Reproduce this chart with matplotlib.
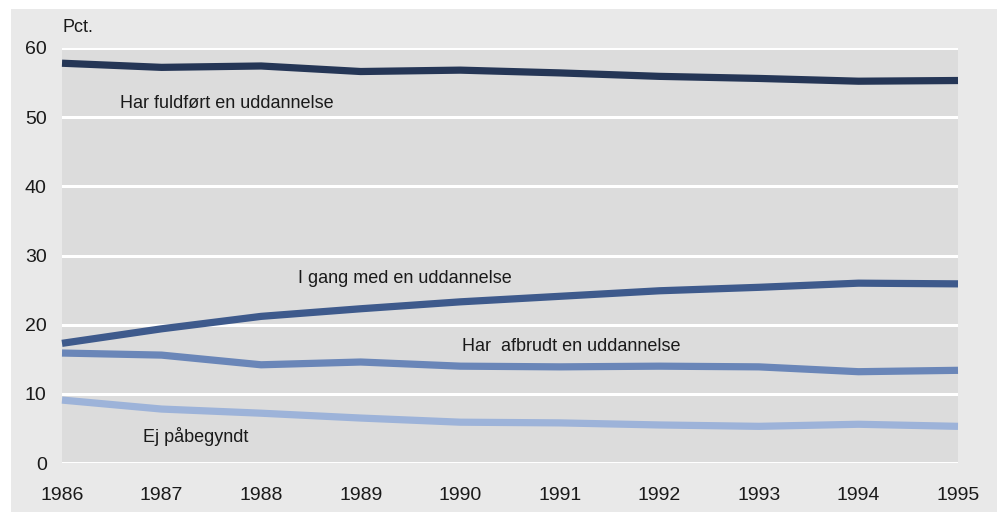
import matplotlib
matplotlib.use("Agg")
import matplotlib.pyplot as plt
from matplotlib.patches import Rectangle

years = [1986, 1987, 1988, 1989, 1990, 1991, 1992, 1993, 1994, 1995]
fuldfort = [57.8, 57.2, 57.4, 56.6, 56.8, 56.4, 55.9, 55.6, 55.2, 55.3]
i_gang = [17.3, 19.4, 21.2, 22.3, 23.3, 24.1, 24.9, 25.4, 26.0, 25.9]
afbrudt = [15.9, 15.6, 14.2, 14.6, 14.0, 13.9, 14.0, 13.9, 13.2, 13.4]
ej_paabegyndt = [9.1, 7.8, 7.2, 6.5, 5.9, 5.8, 5.5, 5.3, 5.6, 5.3]

plt.rcParams['font.family'] = ["Liberation Sans", "DejaVu Sans"]

W, H = 997, 512
fig = plt.figure(figsize=(W / 100, H / 100), dpi=100, facecolor="white")
bg = Rectangle((11 / W, 0), 1, 1 - 9 / H, transform=fig.transFigure,
               facecolor="#e9e9e9", edgecolor="none", zorder=-10)
fig.add_artist(bg)

ax = fig.add_axes([62 / W, 49 / H, (958 - 62) / W, (463 - 48) / H])
ax.set_zorder(1)
ax.set_facecolor("#dcdcdc")
for s in ax.spines.values():
    s.set_visible(False)

ax.set_xlim(1986, 1995)
ax.set_ylim(0, 60)
ax.set_yticks(range(0, 61, 10))
ax.set_xticks(years)
ax.grid(axis="y", color="white", lw=2.2)
ax.set_axisbelow(True)
ax.tick_params(length=0, labelsize=14, colors="#1a1a1a")
ax.tick_params(axis="y", pad=11)
ax.tick_params(axis="x", pad=17)

series = [
    (fuldfort, "#253656"),
    (i_gang, "#3e5a8c"),
    (afbrudt, "#6a86b8"),
    (ej_paabegyndt, "#9db3d9"),
]
for vals, c in series:
    ax.plot(years, vals, color=c, lw=5.2, clip_on=False, solid_capstyle="butt")

kw = dict(fontsize=13, color="#1a1a1a", va="center", ha="left")
ax.text(1986.58, 52.0, "Har fuldført en uddannelse", **kw)
ax.text(1988.37, 26.7, "I gang med en uddannelse", **kw)
ax.text(1990.02, 16.9, "Har  afbrudt en uddannelse", **kw)
ax.text(1986.81, 3.9, "Ej påbegyndt", **kw)

fig.text(62 / W, 1 - 28 / H, "Pct.", fontsize=13, color="#1a1a1a", va="center", ha="left")

fig.savefig("out.png", dpi=100, facecolor="white")
